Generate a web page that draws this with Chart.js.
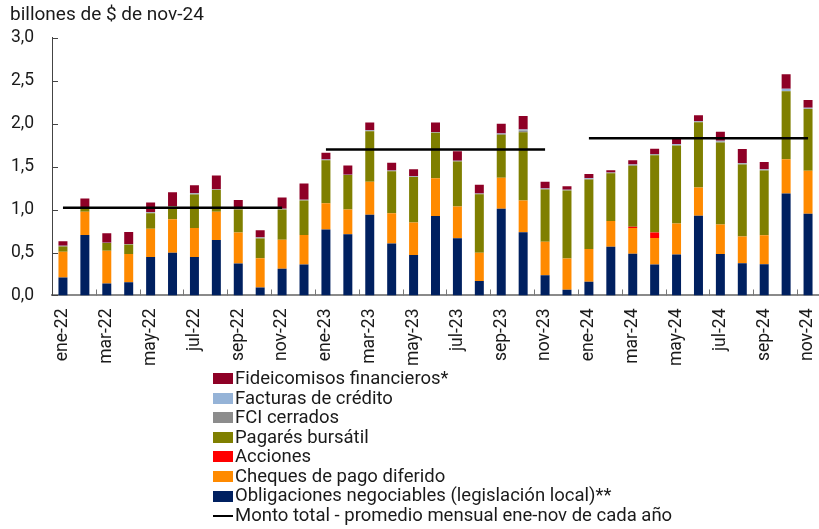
<!DOCTYPE html>
<html lang="es">
<head>
<meta charset="utf-8">
<title>Financiamiento en el mercado de capitales</title>
<script src="https://cdn.jsdelivr.net/npm/chart.js@4.4.1/dist/chart.umd.min.js"></script>
<style>
    html, body { margin: 0; padding: 0; background: #fff; }
    #wrap { position: relative; width: 819px; height: 529px; font-family: Roboto, "Noto Sans", sans-serif; }
    #grafico { position: absolute; left: 0; top: 0; }
    #leyenda { position: absolute; left: 213px; top: 369px; font-size: 18.5px; line-height: 19.55px; color: #1a1a1a; }
    #leyenda .item { display: flex; align-items: center; white-space: nowrap; }
    #leyenda .caja { width: 20px; height: 11px; margin-right: 2px; }
    #leyenda .linea { width: 20px; height: 0; border-top: 2.5px solid #000; margin-right: 2px; }
</style>
</head>
<body>
<div id="wrap">
    <canvas id="grafico" width="819" height="529"></canvas>
    <div id="leyenda"></div>
</div>
<script>
// Meses (ene-22 a nov-24)
const meses = [
    'ene-22', 'feb-22', 'mar-22', 'abr-22', 'may-22', 'jun-22', 'jul-22', 'ago-22', 'sep-22', 'oct-22', 'nov-22', 'dic-22',
    'ene-23', 'feb-23', 'mar-23', 'abr-23', 'may-23', 'jun-23', 'jul-23', 'ago-23', 'sep-23', 'oct-23', 'nov-23', 'dic-23',
    'ene-24', 'feb-24', 'mar-24', 'abr-24', 'may-24', 'jun-24', 'jul-24', 'ago-24', 'sep-24', 'oct-24', 'nov-24'
];

// Montos en billones de $ de nov-24
const obligaciones = [
    0.21, 0.705, 0.14, 0.153, 0.447, 0.497, 0.447, 0.646, 0.372, 0.094, 0.31, 0.36,
    0.767, 0.712, 0.94, 0.606, 0.47, 0.924, 0.665, 0.168, 1.01, 0.736, 0.235, 0.066,
    0.16, 0.568, 0.485, 0.36, 0.477, 0.928, 0.482, 0.376, 0.365, 1.187, 0.952
];
const cheques = [
    0.30, 0.27, 0.38, 0.33, 0.33, 0.39, 0.34, 0.33, 0.36, 0.34, 0.34, 0.345,
    0.306, 0.29, 0.383, 0.35, 0.38, 0.44, 0.37, 0.33, 0.36, 0.37, 0.39, 0.365,
    0.38, 0.30, 0.30, 0.31, 0.36, 0.33, 0.345, 0.31, 0.335, 0.40, 0.50
];
const acciones = [
    0, 0, 0, 0, 0, 0, 0, 0, 0, 0, 0, 0,
    0, 0, 0, 0, 0, 0, 0, 0, 0, 0, 0, 0,
    0, 0, 0.015, 0.063, 0, 0, 0, 0, 0, 0, 0
];
const pagares = [
    0.06, 0.05, 0.09, 0.11, 0.18, 0.15, 0.39, 0.255, 0.27, 0.23, 0.35, 0.40,
    0.50, 0.40, 0.59, 0.49, 0.53, 0.53, 0.525, 0.68, 0.50, 0.795, 0.61, 0.79,
    0.81, 0.555, 0.71, 0.90, 0.91, 0.76, 0.955, 0.84, 0.755, 0.79, 0.72
];
const fciCerrados = [
    0.005, 0, 0, 0, 0.01, 0, 0.01, 0, 0.005, 0.01, 0, 0.005,
    0.005, 0, 0.005, 0.005, 0.005, 0.005, 0.005, 0.005, 0.01, 0.02, 0.005, 0.005,
    0.005, 0.005, 0.01, 0.01, 0, 0.005, 0.01, 0.01, 0.01, 0.005, 0.005
];
const facturas = [
    0.005, 0.005, 0.005, 0.005, 0.005, 0.005, 0.005, 0.005, 0.005, 0.005, 0.01, 0.005,
    0.005, 0.005, 0.005, 0.005, 0.005, 0.005, 0.005, 0.005, 0.005, 0.01, 0.005, 0.005,
    0.01, 0.005, 0.005, 0.005, 0.015, 0.005, 0.01, 0.005, 0.005, 0.025, 0.01
];
const fideicomisos = [
    0.05, 0.10, 0.11, 0.14, 0.11, 0.16, 0.09, 0.16, 0.10, 0.08, 0.13, 0.19,
    0.08, 0.106, 0.09, 0.09, 0.08, 0.11, 0.11, 0.10, 0.115, 0.16, 0.08, 0.04,
    0.05, 0.025, 0.05, 0.06, 0.07, 0.07, 0.105, 0.165, 0.085, 0.17, 0.09
];

// Promedio mensual ene-nov de cada año
const anios = ['22', '23', '24'];
const promedios = [1.02, 1.70, 1.83];

const ticksY = [0, 0.5, 1, 1.5, 2, 2.5, 3];

// Línea de promedio: solo ene-nov, sin valor en diciembre
const promedioLinea = meses.map(m => {
    const [mes, anio] = m.split('-');
    if (mes === 'dic') return null;
    return promedios[anios.indexOf(anio)];
});

// Marcas cortas del eje hacia adentro
const marcasEjes = {
    id: 'marcasEjes',
    afterDraw(chart) {
        const { ctx, chartArea, scales } = chart;
        ctx.save();
        ctx.strokeStyle = '#444';
        ctx.lineWidth = 1;
        ctx.beginPath();
        ticksY.forEach(v => {
            const y = Math.round(scales.y.getPixelForValue(v)) + 0.5;
            ctx.moveTo(chartArea.left, y);
            ctx.lineTo(chartArea.left + 6, y);
        });
        ctx.stroke();
        ctx.strokeStyle = '#777';
        ctx.beginPath();
        for (let i = 2; i < meses.length; i += 2) {
            const x = Math.round(scales.x.getPixelForValue(i - 0.5)) + 0.5;
            ctx.moveTo(x, chartArea.bottom);
            ctx.lineTo(x, chartArea.bottom - 6);
        }
        ctx.stroke();
        ctx.restore();
    }
};

function barra(label, data, color) {
    return {
        type: 'bar',
        label: label,
        data: data,
        backgroundColor: color,
        borderWidth: 0,
        stack: 'total',
        order: 1,
        barPercentage: 0.41,
        categoryPercentage: 1
    };
}

const grafico = new Chart(document.getElementById('grafico'), {
    data: {
        labels: meses,
        datasets: [
            barra('Obligaciones negociables (legislación local)**', obligaciones, '#002060'),
            barra('Cheques de pago diferido', cheques, '#FF8A00'),
            barra('Acciones', acciones, '#FF0000'),
            barra('Pagarés bursátil', pagares, '#7F7F00'),
            barra('FCI cerrados', fciCerrados, '#8C8C8C'),
            barra('Facturas de crédito', facturas, '#95B3D7'),
            barra('Fideicomisos financieros*', fideicomisos, '#8E0026'),
            {
                type: 'line',
                label: 'Monto total - promedio mensual ene-nov de cada año',
                data: promedioLinea,
                borderColor: '#000',
                borderWidth: 2.5,
                pointRadius: 0,
                spanGaps: false,
                stack: 'promedio',
                order: 0
            }
        ]
    },
    options: {
        responsive: false,
        animation: false,
        layout: {
            padding: { left: 10, right: 0, top: 0, bottom: 150 }
        },
        scales: {
            x: {
                stacked: true,
                offset: true,
                grid: { display: false, drawTicks: false },
                border: { display: true, color: '#8a8a8a', width: 2 },
                afterFit: s => {
                    s.paddingLeft = 0;
                    s.paddingRight = 0;
                },
                ticks: {
                    autoSkip: false,
                    maxRotation: 90,
                    minRotation: 90,
                    padding: 13,
                    color: '#1a1a1a',
                    font: { family: 'Roboto', size: 17.5 },
                    callback: (v, i) => (i % 2 === 0 ? meses[i] : null)
                }
            },
            y: {
                stacked: true,
                min: 0,
                max: 3,
                grid: { display: false, drawTicks: false },
                border: { display: true, color: '#444', width: 1 },
                afterFit: s => {
                    s.width = 42;
                },
                ticks: {
                    stepSize: 0.5,
                    padding: 18,
                    color: '#1a1a1a',
                    font: { family: 'Roboto', size: 17.5 },
                    callback: v => v.toFixed(1).replace('.', ',')
                }
            }
        },
        plugins: {
            legend: { display: false },
            tooltip: { enabled: false },
            title: {
                display: true,
                text: 'billones de $ de nov-24',
                align: 'start',
                color: '#1a1a1a',
                font: { family: 'Roboto', size: 19, weight: 'normal' },
                padding: { top: 4, bottom: 11 }
            }
        }
    },
    plugins: [marcasEjes]
});

// Leyenda en una columna: primero las barras de arriba hacia abajo, luego la línea
const leyenda = document.getElementById('leyenda');
const barras = grafico.data.datasets.filter(d => d.type === 'bar').reverse();
const lineas = grafico.data.datasets.filter(d => d.type === 'line');
barras.concat(lineas).forEach(d => {
    const item = document.createElement('div');
    item.className = 'item';
    const marca = document.createElement('span');
    if (d.type === 'line') {
        marca.className = 'linea';
    } else {
        marca.className = 'caja';
        marca.style.background = d.backgroundColor;
    }
    const texto = document.createElement('span');
    texto.textContent = d.label;
    item.appendChild(marca);
    item.appendChild(texto);
    leyenda.appendChild(item);
});
</script>
</body>
</html>
